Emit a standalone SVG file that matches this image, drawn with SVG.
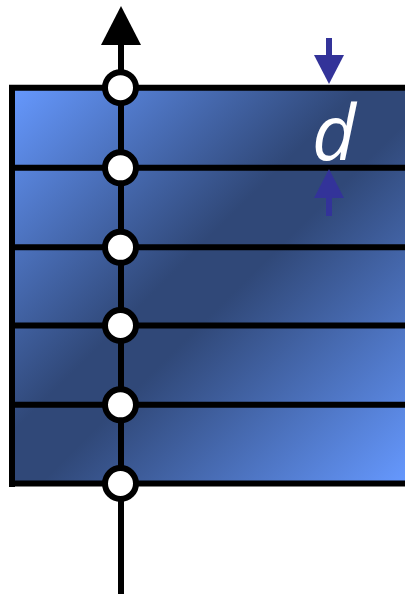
<svg xmlns="http://www.w3.org/2000/svg" width="405" height="596" viewBox="0 0 405 596">
<defs>
<linearGradient id="g" gradientUnits="userSpaceOnUse" x1="11" y1="87" x2="405" y2="485">
<stop offset="0" stop-color="#6699ff"/>
<stop offset="0.44" stop-color="#304878"/>
<stop offset="0.54" stop-color="#304878"/>
<stop offset="1" stop-color="#6699ff"/>
</linearGradient>
<style>
.ln{stroke:#000;stroke-width:6;fill:none}
.c{fill:#fff;stroke:#000;stroke-width:6}
.b{fill:#333399}
</style>
</defs>
<g id="block">
<rect x="12" y="87" width="400" height="398" fill="url(#g)"/>
<path class="ln" d="M12 84.7V487M9 87.7H405M9 167.8H405M9 247.3H405M9 325.5H405M9 404.8H405M9 483.5H405"/>
</g>
<g id="connectors">
<line x1="121" y1="40" x2="121" y2="594" stroke="#000" stroke-width="6"/>
<polygon points="121,6 101,45 141,45" fill="#000"/>
</g>
<g id="nodes">
<circle id="n1" class="c" cx="120.5" cy="87.7" r="15.5"/>
<circle id="n2" class="c" cx="120.5" cy="167.8" r="15.5"/>
<circle id="n3" class="c" cx="120.5" cy="247.3" r="15.5"/>
<circle id="n4" class="c" cx="120.5" cy="325.5" r="15.5"/>
<circle id="n5" class="c" cx="120.5" cy="404.8" r="15.5"/>
<circle id="n6" class="c" cx="120.5" cy="483.5" r="15.5"/>
</g>
<g id="dim">
<rect class="b" x="326" y="38" width="6" height="20"/>
<polygon class="b" points="314,55 344,55 329,84"/>
<rect class="b" x="326" y="195" width="6" height="21"/>
<polygon class="b" points="314,198 344,198 329,169"/>
<text x="334" y="160" font-family="Open Sans, sans-serif" font-style="italic" font-size="76" fill="#fff" text-anchor="middle">d</text>
</g>
</svg>
